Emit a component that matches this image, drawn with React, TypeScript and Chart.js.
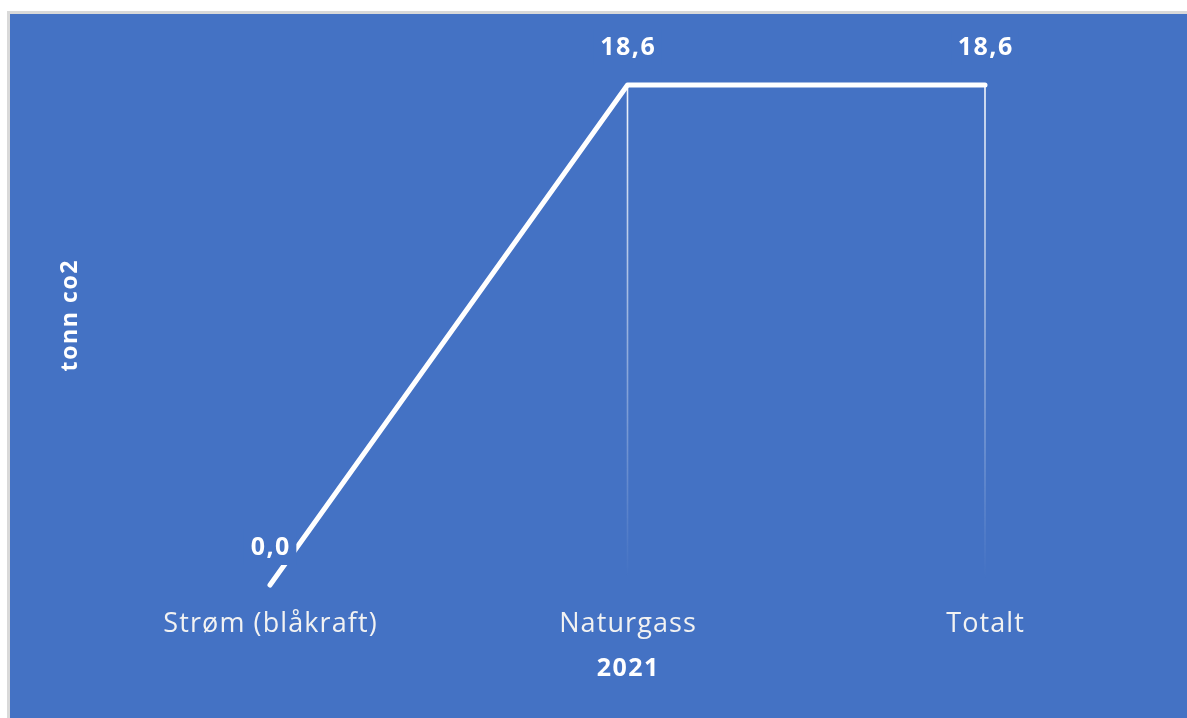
import React, { useEffect, useRef } from "react";
import { Chart, registerables } from "chart.js";

Chart.register(...registerables);

const categories = ["Strøm (blåkraft)", "Naturgass", "Totalt"];
const values = [0, 18.6, 18.6];
const valueLabels = ["0,0", "18,6", "18,6"];
const xTitle = "2021";
const yTitle = "tonn co2";
const yMin = 0;
const yMax = 18.6;

const BG = "#4472C4";
const FONT = "'Open Sans', 'Noto Sans', sans-serif";
const CANVAS_W = 1177;
const CANVAS_H = 704;

function drawText(
  ctx: any,
  text: string,
  x: number,
  y: number,
  font: string,
  spacing: number,
  color: string
) {
  ctx.save();
  ctx.font = font;
  try {
    ctx.letterSpacing = spacing + "px";
  } catch (e) {}
  ctx.fillStyle = color;
  ctx.textAlign = "center";
  ctx.textBaseline = "middle";
  ctx.fillText(text, x + spacing / 2, y);
  ctx.restore();
}

const overlayPlugin = {
  id: "overlay",
  beforeDatasetsDraw(chart: any) {
    const ctx = chart.ctx;
    const meta = chart.getDatasetMeta(0);
    const fadeEnd = chart.chartArea.bottom - 6;
    meta.data.forEach((pt: any, i: number) => {
      if (values[i] === 0) return;
      const g = ctx.createLinearGradient(0, pt.y, 0, fadeEnd);
      g.addColorStop(0, "rgba(255,255,255,0.95)");
      g.addColorStop(0.5, "rgba(255,255,255,0.45)");
      g.addColorStop(1, "rgba(255,255,255,0)");
      ctx.save();
      ctx.strokeStyle = g;
      ctx.lineWidth = 1.6;
      ctx.beginPath();
      ctx.moveTo(pt.x, pt.y);
      ctx.lineTo(pt.x, fadeEnd);
      ctx.stroke();
      ctx.restore();
    });
  },
  afterDatasetsDraw(chart: any) {
    const ctx = chart.ctx;
    const meta = chart.getDatasetMeta(0);
    meta.data.forEach((pt: any, i: number) => {
      const text = valueLabels[i];
      const cx = pt.x;
      const cy = pt.y - 38;
      ctx.save();
      ctx.font = `bold 25px ${FONT}`;
      const w = ctx.measureText(text).width + 5 + 12;
      ctx.restore();
      const h = 36;
      ctx.save();
      ctx.fillStyle = BG;
      ctx.fillRect(cx - w / 2, cy - h / 2, w, h);
      ctx.restore();
      drawText(ctx, text, cx, cy + 1, `bold 25px ${FONT}`, 1.5, "#ffffff");
    });
  },
  afterDraw(chart: any) {
    const ctx = chart.ctx;
    const xs = chart.scales.x;
    const area = chart.chartArea;
    categories.forEach((c, i) => {
      const x = xs.getPixelForValue(i);
      drawText(ctx, c, x, area.bottom + 39, `27px ${FONT}`, 1.1, "#f2f2f2");
    });
    drawText(
      ctx,
      xTitle,
      (area.left + area.right) / 2,
      area.bottom + 84,
      `bold 25px ${FONT}`,
      1.5,
      "#ffffff"
    );
    ctx.save();
    ctx.translate(60, 302);
    ctx.rotate(-Math.PI / 2);
    drawText(ctx, yTitle, 0, 0, `bold 23px ${FONT}`, 1.6, "#ffffff");
    ctx.restore();
  },
};

export default function App() {
  const canvasRef = useRef<HTMLCanvasElement | null>(null);

  useEffect(() => {
    const canvas = canvasRef.current;
    if (!canvas) return;
    const chart = new Chart(canvas, {
      type: "line",
      data: {
        labels: categories,
        datasets: [
          {
            data: values,
            borderColor: "#ffffff",
            borderWidth: 5,
            borderCapStyle: "round",
            borderJoinStyle: "round",
            pointRadius: 0,
            pointHoverRadius: 0,
            tension: 0,
            fill: false,
            clip: false as any,
          },
        ],
      },
      options: {
        responsive: false,
        animation: false,
        events: [],
        layout: { padding: { left: 0, right: 202, top: 71, bottom: 0 } },
        plugins: {
          legend: { display: false },
          tooltip: { enabled: false },
          title: { display: false },
        },
        scales: {
          x: {
            type: "category",
            offset: false,
            grid: { display: false, drawTicks: false },
            border: { display: false },
            ticks: { display: false },
            title: { display: false },
            afterFit(scale: any) {
              scale.height = 133;
            },
          },
          y: {
            min: yMin,
            max: yMax,
            grid: { display: false, drawTicks: false },
            border: { display: false },
            ticks: { display: false },
            title: { display: false },
            afterFit(scale: any) {
              scale.width = 260;
            },
          },
        },
      },
      plugins: [overlayPlugin],
    });
    return () => chart.destroy();
  }, []);

  return (
    <div
      style={{
        position: "fixed",
        left: 7,
        top: 11,
        width: 1180,
        height: 707,
        borderTop: "3px solid #d9d9d9",
        borderLeft: "3px solid #d9d9d9",
        background: BG,
        boxSizing: "border-box",
        overflow: "hidden",
      }}
    >
      <canvas
        ref={canvasRef}
        width={CANVAS_W}
        height={CANVAS_H}
        style={{ display: "block", width: CANVAS_W, height: CANVAS_H }}
      />
    </div>
  );
}
